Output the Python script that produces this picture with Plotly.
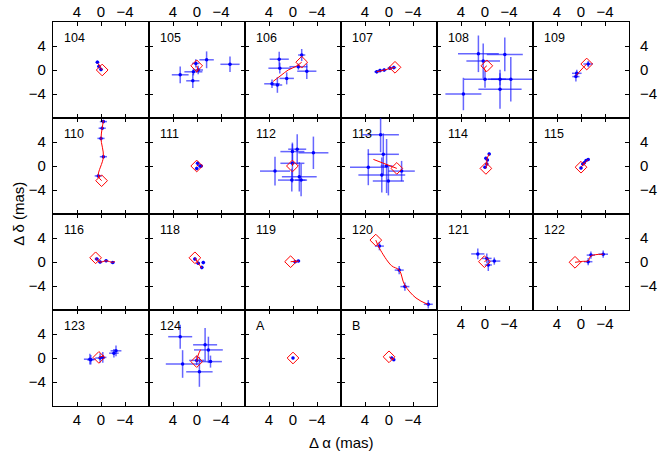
import plotly.graph_objects as go
from plotly.subplots import make_subplots

# ---------------- data (mas) ----------------
labels = ["104", "105", "106", "107", "108", "109",
          "110", "111", "112", "113", "114", "115",
          "116", "118", "119", "120", "121", "122",
          "123", "124", "A", "B"]

# measured positions (delta alpha, delta delta) per panel
pt_ra = [
    [0.6, 0.35, 0.0],
    [2.8, 0.7, 0.6, -0.2, 0.2, -1.6, -5.5],
    [2.3, 2.2, 1.05, 3.5, 2.6, -1.45, -2.3, -0.9],
    [2.05, 1.5, 0.8, -0.15, -0.8],
    [1.1, -3.3, 0.3, 0.0, -2.5, -4.3, 3.6, -2.5],
    [0.7, 0.85, -1.2],
    [0.45, -0.4, 0.0, -0.2, -0.4],
    [-0.1, -0.5, 0.05, -0.7],
    [0.1, -0.7, -3.4, 3.0, 0.2, -1.05, 0.1, -1.35],
    [1.4, 0.95, 3.45, 0.4, 1.2, 0.1, -2.1],
    [-0.7, -0.15, -0.4, -0.3, 0.0],
    [0.0, -0.3, -0.55, -0.85, -1.2],
    [0.7, 0.15, -0.85, -1.95],
    [0.35, -0.2, -0.8, -1.05],
    [-0.35, -0.9],
    [1.6, -1.7, -2.65, -6.55],
    [1.2, -0.3, -0.55, -1.55],
    [-1.2, -1.65, -3.7],
    [1.85, 1.7, 0.15, -0.3, -2.15, -2.5],
    [2.8, 2.4, -1.35, -1.9, -0.4, -2.25, 0.05],
    [0.0],
    [-0.45, -0.8],
]
pt_dec = [
    [1.3, 0.6, 0.1],
    [-0.8, -1.8, -0.3, 0.0, 1.1, 1.7, 0.95],
    [1.8, 0.3, -1.4, -2.3, -2.5, 2.5, -0.2, 0.55],
    [-0.3, -0.1, 0.0, 0.3, 0.4],
    [2.7, 2.6, 1.5, -1.55, -1.55, -1.55, -4.0, -3.2],
    [-0.55, -1.1, 1.0],
    [-1.65, 1.55, 4.6, 6.3, 7.4],
    [0.45, 0.0, -0.4, 0.0],
    [2.4, 2.8, 2.2, -0.85, -2.35, -1.8, 0.45, -2.35],
    [5.2, 1.95, -0.2, 0.0, -1.5, -2.5, -0.85],
    [2.0, 1.3, 1.0, 0.35, -0.2],
    [-0.35, 0.35, 0.55, 0.9, 1.1],
    [0.5, 0.0, 0.2, -0.1],
    [0.5, -0.2, -0.9, -0.1],
    [0.05, 0.15],
    [2.65, -1.35, -4.1, -7.05],
    [1.35, 0.6, -0.5, 0.15],
    [0.05, 1.15, 1.3],
    [-0.2, -0.3, 0.0, 0.1, 0.8, 1.2],
    [3.55, -1.0, 2.2, 1.35, -2.3, -0.6, -0.4],
    [0.0],
    [0.0, -0.3],
]
err_ra = [
    [0.3, 0.3, 0.3],
    [1.4, 1.1, 1.5, 0.8, 0.6, 1.2, 1.6],
    [1.6, 1.9, 1.2, 1.3, 0.8, 0.6, 1.6, 1.5],
    [0.4, 0.4, 0.4, 0.4, 0.4],
    [3.4, 3.0, 2.8, 3.5, 1.5, 3.8, 3.0, 3.6],
    [0.8, 0.6, 0.8],
    [0.6, 0.6, 0.6, 0.6, 0.6],
    [0.3, 0.3, 0.3, 0.3],
    [2.0, 1.5, 2.5, 2.5, 2.3, 2.9, 2.0, 1.0],
    [3.05, 2.6, 3.05, 1.0, 3.9, 2.6, 2.2],
    [0.25, 0.25, 0.25, 0.25, 0.25],
    [0.25, 0.25, 0.25, 0.25, 0.25],
    [0.35, 0.35, 0.35, 0.35],
    [0.3, 0.3, 0.3, 0.3],
    [0.3, 0.3],
    [0.75, 0.75, 0.75, 0.75],
    [1.1, 0.8, 0.6, 1.0],
    [0.7, 0.7, 0.8],
    [1.0, 0.6, 0.8, 0.6, 0.8, 0.9],
    [2.0, 2.8, 2.0, 2.4, 2.2, 1.9, 1.25],
    [0.2],
    [0.2, 0.2],
]
err_dec = [
    [0.3, 0.3, 0.3],
    [1.4, 1.2, 0.6, 0.7, 0.7, 1.4, 1.3],
    [1.25, 0.9, 1.0, 0.7, 1.3, 1.0, 1.3, 0.5],
    [0.3, 0.3, 0.3, 0.3, 0.3],
    [3.05, 2.8, 2.9, 1.4, 1.0, 3.7, 2.7, 3.25],
    [0.6, 0.8, 0.5],
    [0.3, 0.3, 0.3, 0.3, 0.3],
    [0.3, 0.3, 0.3, 0.3],
    [1.5, 2.5, 2.7, 2.4, 1.9, 2.45, 3.2, 2.7],
    [2.9, 3.5, 3.0, 4.5, 2.9, 2.4, 1.7],
    [0.25, 0.25, 0.25, 0.25, 0.25],
    [0.25, 0.25, 0.25, 0.25, 0.25],
    [0.25, 0.25, 0.25, 0.25],
    [0.3, 0.3, 0.3, 0.3],
    [0.2, 0.2],
    [0.7, 0.7, 0.7, 0.7],
    [0.9, 0.8, 1.0, 0.6],
    [0.6, 0.6, 0.6],
    [0.9, 0.8, 0.8, 0.9, 0.7, 0.9],
    [2.0, 2.3, 2.8, 2.2, 2.5, 1.0, 0.8],
    [0.2],
    [0.2, 0.2],
]

# reference position (diamond)
dia_ra = [-0.2, 0.05, -1.45, -1.0, -0.3, -0.95,
          -0.1, 0.05, 0.1, -1.3, -0.15, 0.0,
          0.9, 0.35, 0.4, 2.2, 0.1, 1.0,
          0.35, 0.05, 0.0, 0.0]
dia_dec = [0.0, 0.7, 1.3, 0.45, 0.7, 1.0,
           -2.45, 0.0, 0.0, -0.4, -0.4, -0.2,
           0.7, 0.7, 0.05, 3.65, 0.05, -0.05,
           0.1, -0.6, 0.0, 0.2]

# model track (red line)
trk_ra = [
    [-0.2, 0.2, 0.5],
    [0.05, -0.1, 0.1],
    [3.3, 2.0, 0.8, -0.5, -1.45],
    [2.05, 0.8, -1.0],
    [-0.3, 0.1, -0.1],
    [0.8, 0.0, -0.95],
    [-0.1, 0.45, -0.4, 0.0, -0.2, -0.4],
    [0.05, -0.3],
    [0.1, 0.0],
    [2.6, -1.3],
    [-0.15, -0.3, -0.3, -0.7],
    [0.0, -1.2],
    [0.9, 0.15, -0.85, -1.95, -2.3],
    [0.35, -0.2, -0.8],
    [0.4, -1.0],
    [2.2, 1.6, -0.4, -1.7, -2.6, -4.5, -6.55],
    [0.1, -0.3],
    [1.0, -0.2, -1.2, -1.65, -3.7],
    [0.35, -0.5],
    [0.05, -0.2, -0.6],
    [],
    [0.0, -0.8],
]
trk_dec = [
    [0.0, 0.6, 1.1],
    [0.7, 0.1, -0.4],
    [-1.9, -0.9, 0.0, 0.6, 1.3],
    [-0.3, 0.0, 0.45],
    [0.7, 0.3, -0.3],
    [-0.9, 0.0, 1.0],
    [-2.45, -1.65, 1.55, 4.6, 6.3, 7.6],
    [0.0, 0.2],
    [0.0, 0.5],
    [1.1, -0.4],
    [-0.4, 0.35, 1.1, 2.0],
    [-0.2, 1.1],
    [0.7, 0.0, 0.2, -0.05, 0.1],
    [0.7, -0.2, -1.0],
    [0.05, 0.15],
    [3.65, 2.3, -0.6, -1.35, -3.8, -6.0, -7.1],
    [0.05, 0.3],
    [-0.05, 0.1, 0.2, 1.0, 1.3],
    [0.1, 0.4],
    [-0.6, 0.5, 1.4],
    [],
    [0.2, -0.3],
]

tick_vals = [4, 0, -4]
tick_text = ["4", "0", "\u22124"]

NR, NC = 4, 6
fig = make_subplots(rows=NR, cols=NC, horizontal_spacing=0, vertical_spacing=0)

FONT = "Liberation Sans, Arial, Helvetica, sans-serif"

for i, lab in enumerate(labels):
    r = i // NC + 1
    c = i % NC + 1
    # error-bar points
    fig.add_trace(go.Scatter(
        x=pt_ra[i], y=pt_dec[i], mode="markers",
        marker=dict(color="blue", size=3.5),
        error_x=dict(type="data", array=err_ra[i], color="rgba(20,20,255,0.65)",
                     thickness=1.5, width=0),
        error_y=dict(type="data", array=err_dec[i], color="rgba(20,20,255,0.65)",
                     thickness=1.5, width=0),
        showlegend=False, hoverinfo="skip"), row=r, col=c)
    # model track
    if trk_ra[i]:
        fig.add_trace(go.Scatter(
            x=trk_ra[i], y=trk_dec[i], mode="lines",
            line=dict(color="red", width=1, shape="spline"),
            showlegend=False, hoverinfo="skip"), row=r, col=c)
    # reference diamond
    fig.add_trace(go.Scatter(
        x=[dia_ra[i]], y=[dia_dec[i]], mode="markers",
        marker=dict(symbol="diamond-open", size=9, color="red",
                    line=dict(color="red", width=1)),
        showlegend=False, hoverinfo="skip"), row=r, col=c)

n_panels = len(labels)
for k in range(1, NR * NC + 1):
    r = (k - 1) // NC + 1
    c = (k - 1) % NC + 1
    xa = "xaxis" if k == 1 else f"xaxis{k}"
    ya = "yaxis" if k == 1 else f"yaxis{k}"
    if k > n_panels:
        fig.layout[xa].update(visible=False, range=[8, -8], automargin=False)
        fig.layout[ya].update(visible=False, range=[-8, 8], automargin=False)
        continue
    # x tick labels
    x_lab = False
    x_side = "bottom"
    x_stand = 0
    if r == 1:
        x_lab, x_side, x_stand = True, "top", -2
    elif r == NR or (k + NC > n_panels):
        x_lab = True
    y_lab = False
    y_side = "left"
    y_stand = 3
    if c == 1:
        y_lab = True
    elif c == NC:
        y_lab, y_side, y_stand = True, "right", 7
    common = dict(tickvals=tick_vals, ticktext=tick_text, ticks="inside", ticklen=4,
                  tickwidth=1, tickcolor="black", showline=True, linecolor="black",
                  linewidth=1.2, mirror="ticks", showgrid=False, zeroline=False,
                  tickfont=dict(family=FONT, size=15, color="black"),
                  fixedrange=True, automargin=False)
    fig.layout[xa].update(range=[8, -8], showticklabels=x_lab, side=x_side,
                          ticklabelstandoff=x_stand, **common)
    fig.layout[ya].update(range=[-8, 8], showticklabels=y_lab, side=y_side,
                          ticklabelstandoff=y_stand, **common)
    ref = "x" if k == 1 else f"x{k}"
    yref = "y" if k == 1 else f"y{k}"
    fig.add_annotation(text=labels[k - 1], xref=f"{ref} domain", yref=f"{yref} domain",
                       x=0.095, y=0.925, xanchor="left", yanchor="top", showarrow=False,
                       font=dict(family=FONT, size=12.5, color="black"))

fig.add_annotation(text="\u0394 \u03b1 (mas)", xref="paper", yref="paper",
                   x=0.5, y=-0.096, xanchor="center", yanchor="middle", showarrow=False,
                   font=dict(family=FONT, size=15, color="black"))
fig.add_annotation(text="\u0394 \u03b4 (mas)", xref="paper", yref="paper",
                   x=-0.061, y=0.5, xanchor="center", yanchor="middle", showarrow=False,
                   textangle=-90, font=dict(family=FONT, size=15, color="black"))

fig.update_layout(width=662, height=451, margin=dict(l=53, r=33, t=22, b=45),
                  paper_bgcolor="white", plot_bgcolor="white")

fig.write_html("out.html")
